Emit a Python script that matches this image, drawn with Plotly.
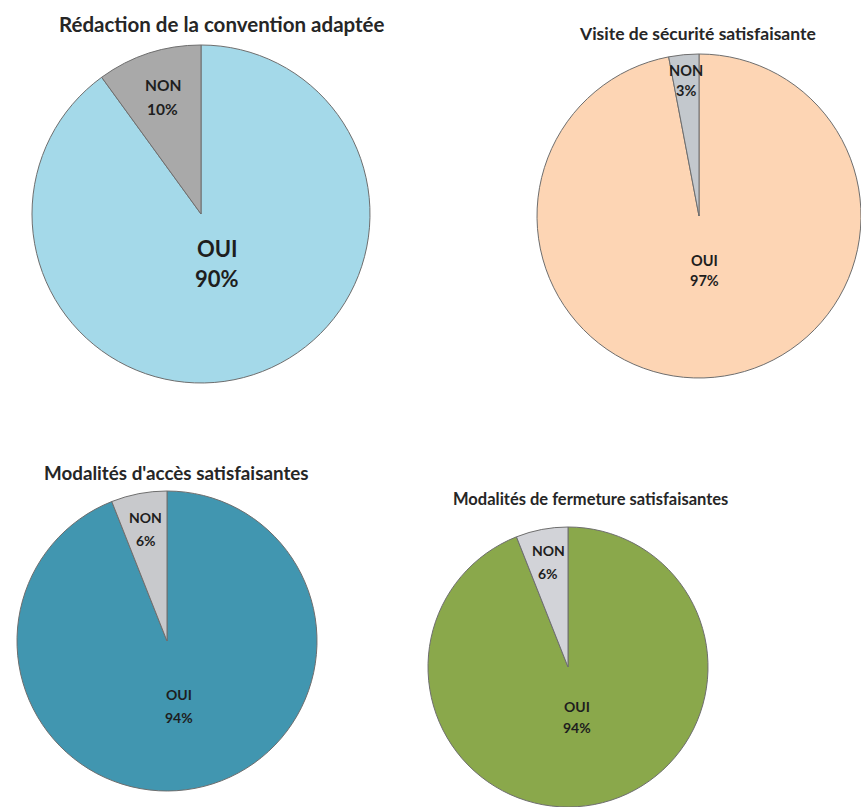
import math
import plotly.graph_objects as go

# Survey results: share of "OUI" / "NON" answers per question
titles = [
    "Rédaction de la convention adaptée",
    "Visite de sécurité satisfaisante",
    "Modalités d'accès satisfaisantes",
    "Modalités de fermeture satisfaisantes",
]
answer_labels = ["OUI", "NON"]
oui_pct = [90, 97, 94, 94]
non_pct = [10, 3, 6, 6]

oui_colors = ["#a4d9e9", "#fdd5b4", "#4196b0", "#8aa84b"]
non_colors = ["#a9a9a9", "#c3c8cd", "#c8c9cc", "#d2d3d8"]

W, H = 861, 807
FONT = "Lato, Open Sans, Arial, sans-serif"

# Layout of each pie: centre (px), radius (px), title placement and label styling
panels = [
    dict(cx=201, cy=214, r=169, tx=222, ty=24, tsize=20.5,
         oui_frac=0.31, non_frac=0.73, oui_size=22, non_size=15.5, oui_gap=30, non_gap=24),
    dict(cx=699, cy=216, r=162, tx=697, ty=33, tsize=17.5,
         oui_frac=0.34, non_frac=0.84, oui_size=14.5, non_size=14.5, oui_gap=20, non_gap=20),
    dict(cx=167, cy=641, r=150, tx=176, ty=472, tsize=18.8,
         oui_frac=0.44, non_frac=0.76, oui_size=14, non_size=14, oui_gap=23, non_gap=23),
    dict(cx=568, cy=667, r=140, tx=590, ty=499, tsize=16.5,
         oui_frac=0.36, non_frac=0.76, oui_size=14, non_size=14, oui_gap=21, non_gap=23),
]


def px_x(x):
    return x / W


def px_y(y):
    return 1 - y / H


fig = go.Figure()
annotations = []

for i, p in enumerate(panels):
    values = [oui_pct[i], non_pct[i]]
    x0 = max(p["cx"] - p["r"], 0)
    x1 = min(p["cx"] + p["r"], W)
    y0 = max(p["cy"] - p["r"], 0)
    y1 = min(p["cy"] + p["r"], H)
    fig.add_trace(go.Pie(
        labels=answer_labels,
        values=values,
        sort=False,
        direction="clockwise",
        rotation=0,
        textinfo="none",
        hoverinfo="label+percent",
        marker=dict(colors=[oui_colors[i], non_colors[i]],
                    line=dict(color="#6e6e6e", width=1)),
        domain=dict(x=[px_x(x0), px_x(x1)], y=[px_y(y1), px_y(y0)]),
        showlegend=False,
    ))

    # chart title
    annotations.append(dict(
        x=px_x(p["tx"]), y=px_y(p["ty"]), xref="paper", yref="paper",
        text=f"<b>{titles[i]}</b>", showarrow=False,
        xanchor="center", yanchor="middle",
        font=dict(family=FONT, size=p["tsize"], color="#262626"),
    ))

    # slice labels placed along each slice's bisector
    total = sum(values)
    start = 0.0
    for lab, val, frac_key, size_key, gap_key in [
        (answer_labels[0], values[0], "oui_frac", "oui_size", "oui_gap"),
        (answer_labels[1], values[1], "non_frac", "non_size", "non_gap"),
    ]:
        sweep = 360.0 * val / total
        mid = math.radians(start + sweep / 2)
        start += sweep
        d = p[frac_key] * p["r"]
        bx = p["cx"] + d * math.sin(mid)
        by = p["cy"] - d * math.cos(mid)
        gap = p[gap_key]
        for line, dy in [(lab, -gap / 2), (f"{val}%", gap / 2)]:
            annotations.append(dict(
                x=px_x(bx), y=px_y(by + dy), xref="paper", yref="paper",
                text=f"<b>{line}</b>", showarrow=False,
                xanchor="center", yanchor="middle",
                font=dict(family=FONT, size=p[size_key], color="#1e1e1e"),
            ))

fig.update_layout(
    width=W, height=H,
    margin=dict(l=0, r=0, t=0, b=0),
    paper_bgcolor="white",
    plot_bgcolor="white",
    annotations=annotations,
)

fig.write_html("out.html")
